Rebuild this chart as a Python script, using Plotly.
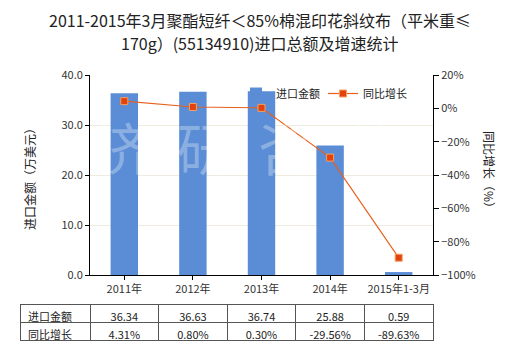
import plotly.graph_objects as go

# Import value (10k USD) and year-on-year growth (%) by period
categories = ["2011年", "2012年", "2013年", "2014年", "2015年1-3月"]
import_value = [36.34, 36.63, 36.74, 25.88, 0.59]
yoy_growth = [4.31, 0.80, 0.30, -29.56, -89.63]

value_labels = ["36.34", "36.63", "36.74", "25.88", "0.59"]
growth_labels = ["4.31%", "0.80%", "0.30%", "-29.56%", "-89.63%"]

title_lines = ["2011-2015年3月聚酯短纤＜85%棉混印花斜纹布（平米重≤",
               "170g）(55134910)进口总额及增速统计"]

FONT = "Noto Sans CJK SC, Noto Sans, sans-serif"
W, H = 520, 350
plot_left, plot_right = 90, 433
plot_top, plot_bottom = 75, 275

BAR = "#5a8dd5"
LINE = "#e8601c"

fig = go.Figure()

fig.add_trace(go.Bar(
    x=categories, y=import_value, name="进口金额",
    marker=dict(color=BAR, line=dict(width=0)),
    width=0.4, yaxis="y",
))

fig.add_trace(go.Scatter(
    x=categories, y=yoy_growth, name="同比增长", yaxis="y2",
    mode="lines+markers",
    line=dict(color=LINE, width=1.2),
    marker=dict(symbol="square", size=7, color="#e2420e",
                line=dict(color="#f5a060", width=1)),
))

# Data table under the chart
fig.add_trace(go.Table(
    domain=dict(x=[20 / W, 433 / W], y=[0, 1 - 304.5 / H]),
    columnwidth=[70] + [68.6] * len(categories),
    header=dict(
        values=["进口金额"] + value_labels,
        align=["left"] + ["center"] * len(categories),
        fill_color="white",
        line=dict(color="#555555", width=1),
        font=dict(family=FONT, size=11, color="#222222"),
        height=18,
    ),
    cells=dict(
        values=[["同比增长"]] + [[g] for g in growth_labels],
        align=["left"] + ["center"] * len(categories),
        fill_color="white",
        line=dict(color="#555555", width=1),
        font=dict(family=FONT, size=11, color="#222222"),
        height=18,
    ),
))

axis_font = dict(family=FONT, size=11, color="#333333")

fig.update_layout(
    width=W, height=H,
    margin=dict(l=0, r=0, t=0, b=0, autoexpand=False),
    paper_bgcolor="white", plot_bgcolor="white",
    font=dict(family=FONT, size=11, color="#333333"),
    xaxis=dict(
        domain=[plot_left / W, plot_right / W],
        showline=True, linecolor="#000000", linewidth=1,
        ticks="outside", ticklen=4, tickcolor="#000000",
        tickfont=axis_font, showgrid=False, automargin=False,
    ),
    yaxis=dict(
        domain=[1 - plot_bottom / H, 1 - plot_top / H],
        range=[0, 40], dtick=10, tickformat=".1f",
        showline=True, linecolor="#000000", linewidth=1,
        ticks="outside", ticklen=4, tickcolor="#000000",
        tickfont=axis_font,
        showgrid=True, gridcolor="#efecdf", gridwidth=1,
        zeroline=False, automargin=False,
    ),
    yaxis2=dict(
        overlaying="y", side="right", anchor="x",
        range=[-100, 20], dtick=20, ticksuffix="%",
        showline=True, linecolor="#000000", linewidth=1,
        ticks="outside", ticklen=5, tickcolor="#000000",
        tickfont=axis_font, showgrid=False, zeroline=False,
        automargin=False,
    ),
    legend=dict(
        orientation="h", x=236 / W, xanchor="left",
        y=1 - 79 / H, yanchor="top",
        bgcolor="rgba(0,0,0,0)",
        font=dict(family=FONT, size=11, color="#222222"),
        itemwidth=30, entrywidth=42, entrywidthmode="pixels",
    ),
    bargap=0.6,
    showlegend=True,
)

annotations = []
for line, yc in zip(title_lines, [20, 43]):
    annotations.append(dict(
        text=line, x=0.5, y=1 - yc / H, xanchor="center", yanchor="middle",
        xref="paper", yref="paper", showarrow=False,
        font=dict(family=FONT, size=16, color="#222222"),
    ))

annotations += [
    dict(text="进口金额（万美元）", textangle=-90, x=29 / W, y=1 - 176 / H,
         xanchor="center", yanchor="middle",
         xref="paper", yref="paper", showarrow=False,
         font=dict(family=FONT, size=12, color="#222222")),
    dict(text="同比增长（%）", textangle=90, x=490 / W, y=1 - 172 / H,
         xanchor="center", yanchor="middle",
         xref="paper", yref="paper", showarrow=False,
         font=dict(family=FONT, size=12, color="#222222")),
]

# Faint brand watermark across the plot area
watermark_chars = ["济", "研", "咨", "询"]
watermark_x = [123, 205, 286, 378]
for ch, xc in zip(watermark_chars, watermark_x):
    annotations.append(dict(
        text=ch, x=xc / W, y=1 - 145 / H, xanchor="center", yanchor="middle",
        xref="paper", yref="paper", showarrow=False,
        font=dict(family=FONT, size=56, color="rgba(255,255,255,0.3)"),
    ))

fig.update_layout(annotations=annotations)

fig.write_html("out.html")
